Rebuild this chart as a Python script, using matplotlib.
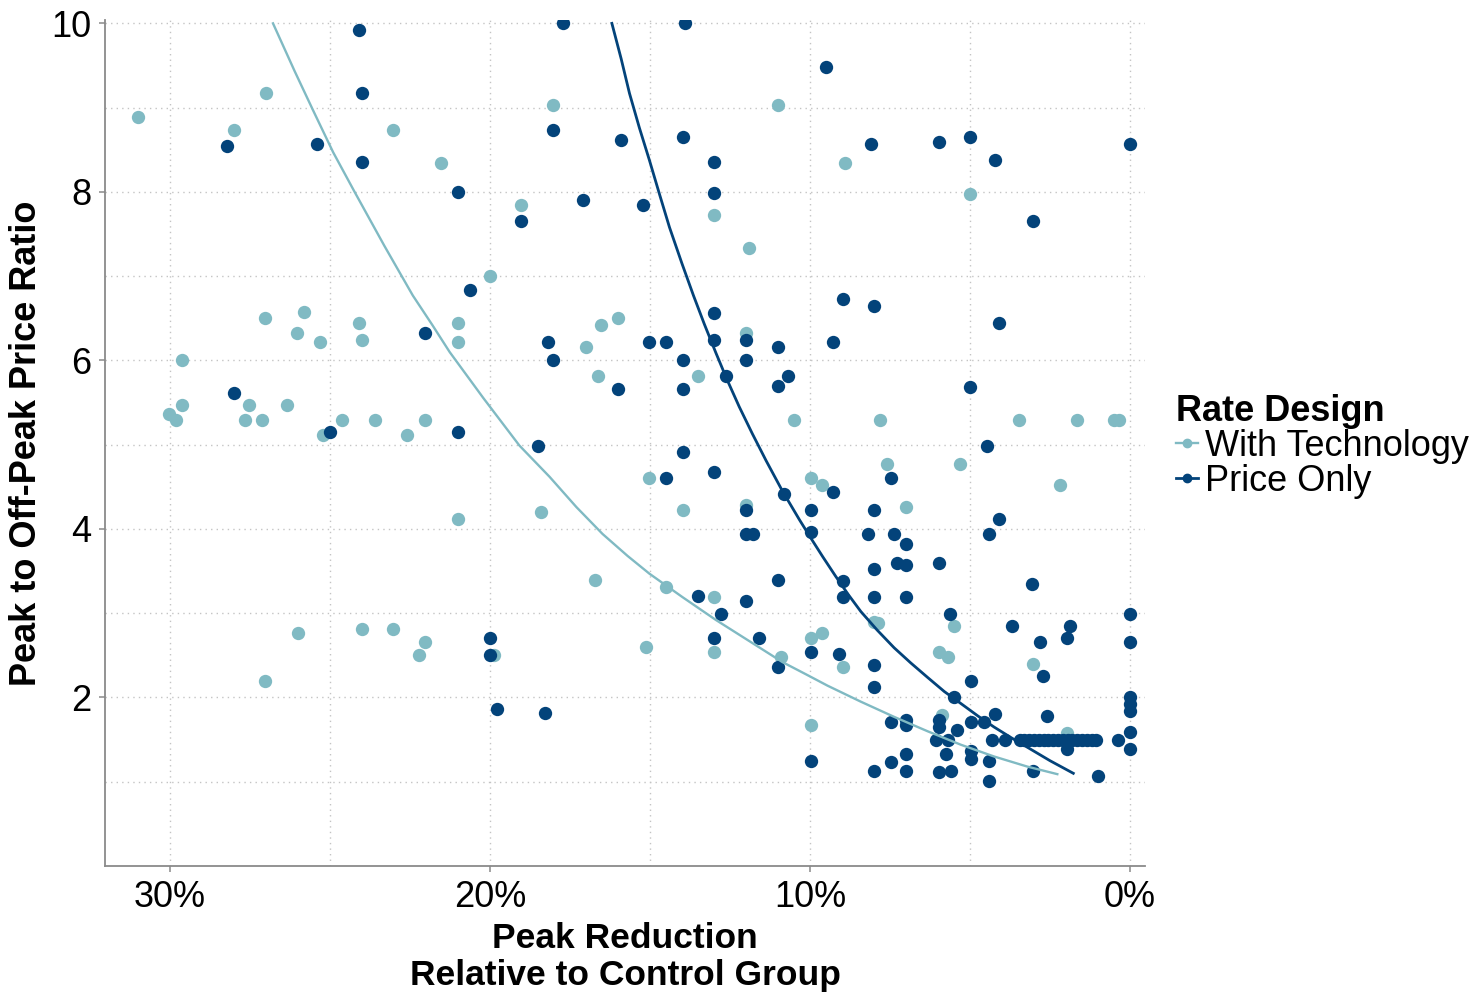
import matplotlib
matplotlib.use("Agg")
import matplotlib.pyplot as plt
from matplotlib.lines import Line2D
from matplotlib.ticker import FuncFormatter

plt.rcParams["font.family"] = ["Liberation Sans", "DejaVu Sans"]

LIGHT, DARK = "#80BAC3", "#03437A"
GRID, AXC = "#c4c4c4", "#8a8a8a"

# peak reduction (%) and peak/off-peak ratio
tech_x = [31.0, 27.0, 28.0, 23.03, 21.52, 18.02, 19.02, 12.99, 11.9, 20.0, 11.0, 8.9, 5.0,
          27.02, 25.82, 26.03, 25.31, 24.1, 24.0, 21.0, 21.0, 29.62, 29.62, 30.03, 29.82,
          27.54, 27.64, 27.12, 26.34, 25.22, 24.62, 23.6, 22.6, 22.03, 21.0,
          16.53, 16.01, 16.99, 12.0, 16.63, 13.51, 10.49, 15.02, 18.4, 13.98, 12.0, 16.73, 14.5,
          7.8, 3.48, 1.66, 0.5, 0.34, 7.59, 5.31, 9.97, 9.61, 7.0, 2.19,
          26.01, 27.02, 24.0, 23.03, 22.02, 22.23,
          12.99, 12.99, 10.91, 19.88, 15.12,
          5.5, 8.01, 7.88, 9.97, 9.61, 8.98, 5.96, 5.7, 3.02, 5.86, 9.97, 1.98]
tech_y = [8.89, 9.17, 8.73, 8.73, 8.34, 9.03, 7.84, 7.72, 7.33, 7.0, 9.03, 8.34, 7.98,
          6.50, 6.57, 6.32, 6.22, 6.44, 6.24, 6.44, 6.22, 6.0, 5.47, 5.37, 5.29,
          5.47, 5.29, 5.29, 5.47, 5.11, 5.29, 5.29, 5.11, 5.29, 4.12,
          6.42, 6.50, 6.16, 6.33, 5.82, 5.82, 5.29, 4.60, 4.20, 4.22, 4.28, 3.39, 3.31,
          5.29, 5.29, 5.29, 5.29, 5.29, 4.77, 4.77, 4.60, 4.52, 4.26, 4.52,
          2.77, 2.20, 2.81, 2.81, 2.66, 2.50,
          3.19, 2.54, 2.48, 2.50, 2.60,
          2.85, 2.89, 2.88, 2.71, 2.77, 2.36, 2.54, 2.48, 2.40, 1.79, 1.67, 1.58]

price_x = [28.22, 25.41, 24.1, 24.0, 24.0, 21.0, 17.71, 13.92, 18.02, 15.9, 13.98, 12.99,
           19.02, 17.1, 15.23, 12.99, 20.61,
           9.5, 8.09, 5.98, 4.99, 4.21, 0.0, 3.02, 8.98, 8.01,
           22.03, 28.01, 25.01, 21.0,
           18.19, 18.02, 15.02, 14.5, 12.99, 12.99, 12.0, 11.01, 16.01, 13.98, 13.98, 12.62,
           12.0, 11.01, 10.7, 18.5, 13.98, 14.5, 12.99, 10.8, 12.0, 12.0, 11.79, 11.01,
           9.29, 4.1, 4.99, 4.47, 7.48, 9.29, 9.97, 8.01, 4.1, 4.42, 9.97, 8.2, 7.38, 7.0,
           8.01, 7.27, 7.0, 5.98, 8.98, 3.07,
           13.51, 12.78, 12.0, 12.99, 11.58, 11.01, 20.01, 20.01, 19.78, 18.29,
           8.98, 8.01, 7.0, 5.61, 9.97, 9.09, 8.01, 8.01, 3.69, 2.81, 1.98, 1.87, 2.71,
           0.0, 0.0, 4.97, 5.5, 0.0, 0.0, 0.0, 0.0, 0.0,
           2.58, 4.21, 7.48, 7.0, 7.0, 5.98, 5.98, 5.4, 4.97, 4.56, 6.07, 5.7, 4.3, 3.9,
           3.45, 3.3, 3.15, 3.0, 2.85, 2.7, 2.55, 2.4, 2.25, 2.1, 1.95, 1.8, 1.65, 1.5,
           1.35, 1.2, 1.07,
           1.96, 0.37, 9.97, 7.48, 7.0, 8.01, 7.0, 5.98, 5.6, 5.75, 4.97, 4.97, 4.4, 4.4,
           3.02, 0.99]
price_y = [8.55, 8.57, 9.92, 9.17, 8.36, 8.0, 10.0, 10.0, 8.73, 8.61, 8.65, 8.36,
           7.66, 7.9, 7.84, 7.99, 6.83,
           9.48, 8.57, 8.59, 8.65, 8.38, 8.57, 7.66, 6.73, 6.65,
           6.32, 5.61, 5.15, 5.15,
           6.22, 6.0, 6.22, 6.22, 6.56, 6.24, 6.24, 6.16, 5.66, 6.0, 5.66, 5.82,
           6.0, 5.70, 5.82, 4.99, 4.91, 4.60, 4.67, 4.42, 4.22, 3.94, 3.94, 3.39,
           6.22, 6.44, 5.68, 4.99, 4.60, 4.44, 4.22, 4.22, 4.12, 3.94, 3.96, 3.94, 3.94, 3.82,
           3.53, 3.59, 3.57, 3.59, 3.38, 3.35,
           3.21, 2.99, 3.15, 2.70, 2.71, 2.36, 2.70, 2.50, 1.86, 1.82,
           3.19, 3.19, 3.19, 2.99, 2.54, 2.52, 2.38, 2.12, 2.85, 2.66, 2.71, 2.85, 2.26,
           2.99, 2.66, 2.20, 2.0, 2.01, 1.92, 1.84, 1.59, 1.39,
           1.78, 1.80, 1.71, 1.73, 1.67, 1.73, 1.65, 1.61, 1.71, 1.71, 1.49, 1.49, 1.49, 1.49,
           1.49, 1.49, 1.49, 1.49, 1.49, 1.49, 1.49, 1.49, 1.49, 1.49, 1.49, 1.49, 1.49, 1.49,
           1.49, 1.49, 1.49,
           1.39, 1.49, 1.25, 1.23, 1.33, 1.13, 1.13, 1.11, 1.13, 1.33, 1.37, 1.27, 1.25, 1.01,
           1.13, 1.07]

# fitted curves, points
tech_fit_x = [26.78, 26.1, 25.53, 24.9, 24.23, 23.3, 22.41, 21.8, 21.26, 20.2, 19.08, 18.14,
              17.3, 16.48, 15.7, 15.02, 13.98, 12.94, 11.90, 10.86, 10.1, 9.45, 8.41, 7.37,
              6.33, 5.29, 4.25, 3.21, 2.27]
tech_fit_y = [10.0, 9.43, 8.97, 8.47, 8.0, 7.36, 6.77, 6.42, 6.10, 5.55, 4.99, 4.62,
              4.26, 3.94, 3.68, 3.47, 3.19, 2.92, 2.67, 2.42, 2.27, 2.14, 1.95, 1.77,
              1.60, 1.44, 1.30, 1.18, 1.09]
price_fit_x = [16.19, 15.9, 15.64, 15.33, 15.02, 14.7, 14.39, 14.0, 13.64, 13.3, 12.94,
               12.6, 12.21, 11.8, 11.37, 10.86, 10.33, 9.97, 9.6, 9.2, 8.8, 8.41, 7.9, 7.37,
               6.85, 6.33, 5.8, 5.29, 4.75, 4.25, 3.7, 3.21, 2.5, 1.77]
price_fit_y = [10.0, 9.58, 9.17, 8.76, 8.38, 7.97, 7.58, 7.15, 6.77, 6.43, 6.09,
               5.78, 5.45, 5.13, 4.81, 4.45, 4.11, 3.89, 3.67, 3.44, 3.22, 3.02, 2.80, 2.59,
               2.41, 2.24, 2.07, 1.93, 1.78, 1.65, 1.52, 1.41, 1.25, 1.10]

fig = plt.figure(figsize=(14.8, 9.93), dpi=100)
ax = fig.add_axes([105 / 1480, 1 - 866 / 993, 1040 / 1480, 846 / 993])

ax.scatter(tech_x, tech_y, s=92, color=LIGHT, linewidths=0, zorder=3)
ax.scatter(price_x, price_y, s=92, color=DARK, linewidths=0, zorder=3)
ax.plot(tech_fit_x, tech_fit_y, color=LIGHT, lw=1.7, zorder=4)
ax.plot(price_fit_x, price_fit_y, color=DARK, lw=2.0, zorder=4)

ax.set_xlim(32.03, -0.47)
ax.set_ylim(0, 10.04)
ax.set_xticks([30, 20, 10, 0])
ax.set_xticks([25, 15, 5], minor=True)
ax.set_yticks([2, 4, 6, 8, 10])
ax.set_yticks([1, 3, 5, 7, 9], minor=True)
ax.xaxis.set_major_formatter(FuncFormatter(lambda v, p: f"{v:.0f}%"))
ax.grid(True, which="both", color=GRID, lw=1.0, ls=(0, (1, 3)))
ax.set_axisbelow(True)

for s in ("top", "right"):
    ax.spines[s].set_visible(False)
for s in ("left", "bottom"):
    ax.spines[s].set_color(AXC)
    ax.spines[s].set_linewidth(1.3)
ax.tick_params(which="major", length=4, width=1.1, color=AXC, labelsize=26, pad=6)
ax.tick_params(which="minor", length=0)

ax.set_xlabel("Peak Reduction\nRelative to Control Group", fontsize=25.5,
              fontweight="bold", labelpad=5, linespacing=1.15)
ax.set_ylabel("Peak to Off-Peak Price Ratio", fontsize=26, fontweight="bold", labelpad=5)

handles = [Line2D([], [], color=LIGHT, marker="o", ms=6, lw=1.7),
           Line2D([], [], color=DARK, marker="o", ms=6, lw=2.0)]
leg = fig.legend(handles, ["With Technology", "Price Only"], title="Rate Design",
                 loc="upper left", bbox_to_anchor=(1176 / 1480, 1 - 394 / 993),
                 frameon=False, fontsize=26, title_fontproperties={"size": 26, "weight": "bold"},
                 handlelength=0.6, handletextpad=0.2, labelspacing=0.0,
                 borderpad=0, borderaxespad=0, alignment="left")

fig.savefig("out.png", dpi=100)
